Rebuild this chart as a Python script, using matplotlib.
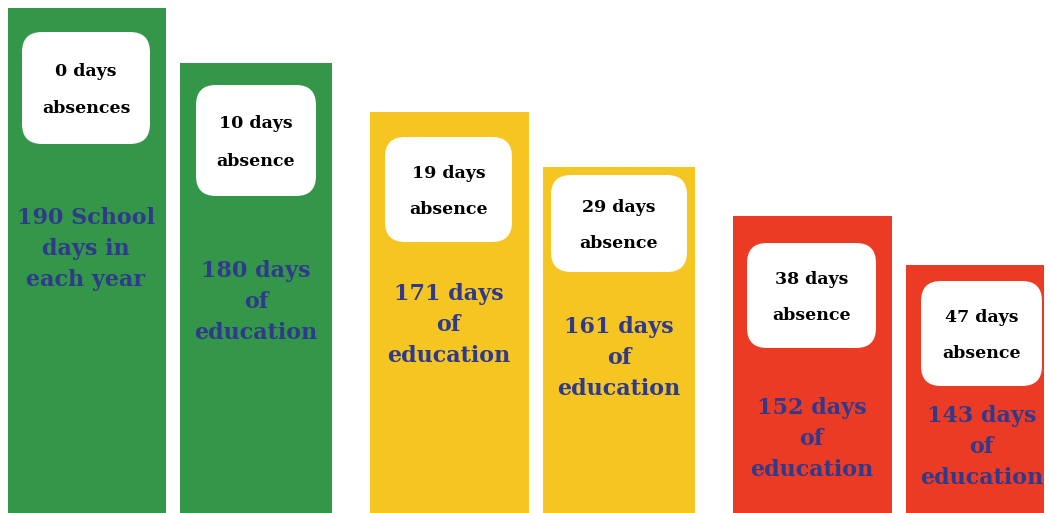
import matplotlib
matplotlib.use("Agg")
import matplotlib.pyplot as plt
from matplotlib.patches import FancyBboxPatch
from matplotlib.transforms import IdentityTransform

# ---- data ----
school_days = [190, 180, 171, 161, 152, 143]
absence_top = ["0 days", "10 days", "19 days", "29 days", "38 days", "47 days"]
absence_bottom = ["absences", "absence", "absence", "absence", "absence", "absence"]
edu_labels = [
    ["190 School", "days in", "each year"],
    ["180 days", "of", "education"],
    ["171 days", "of", "education"],
    ["161 days", "of", "education"],
    ["152 days", "of", "education"],
    ["143 days", "of", "education"],
]
bar_colors = ["#339648", "#339648", "#F5C622", "#F5C622", "#EC3B24", "#EC3B24"]

# ---- layout (pixels) ----
W, H = 1049, 513
bar_left = [8, 180, 370, 543, 733, 906]
bar_right = [166, 332, 529, 695, 892, 1044]
box_rect = [  # left, right, top, bottom (pixels from top)
    (22, 150, 32, 144),
    (196, 316, 85, 196),
    (385, 512, 137, 242),
    (551, 687, 175, 272),
    (747, 876, 243, 348),
    (921, 1042, 281, 386),
]
edu_first_line = [218, 271, 294, 327, 408, 416]
line_gap = 30.8
blue = "#2F3A8C"

fig = plt.figure(figsize=(W / 100, H / 100), dpi=100)
ax = fig.add_axes([0, 0, 1, 1])
ax.set_xlim(0, W)
ax.set_ylim(97.8, 191.46)
ax.axis("off")

centers = [(l + r) / 2 for l, r in zip(bar_left, bar_right)]
widths = [r - l for l, r in zip(bar_left, bar_right)]
ax.bar(centers, school_days, width=widths, color=bar_colors, bottom=0, zorder=1)

font = "DejaVu Serif"
ident = IdentityTransform()
for i in range(len(school_days)):
    l, r, t, b = box_rect[i]
    box = FancyBboxPatch((l, H - b), r - l, b - t,
                         boxstyle="round,pad=0,rounding_size=20",
                         transform=ident, facecolor="white", edgecolor="none", zorder=2)
    ax.add_artist(box)
    cx = (l + r) / 2
    cy = (t + b) / 2 + 2
    ax.text(cx, H - (cy - 18.5), absence_top[i], transform=ident, ha="center", va="center",
            fontsize=12.5, fontweight="bold", family=font, color="black", zorder=3)
    ax.text(cx, H - (cy + 18.5), absence_bottom[i], transform=ident, ha="center", va="center",
            fontsize=12.5, fontweight="bold", family=font, color="black", zorder=3)
    for j, line in enumerate(edu_labels[i]):
        ax.text(cx, H - (edu_first_line[i] + j * line_gap), line, transform=ident,
                ha="center", va="center", fontsize=16, fontweight="bold", family=font,
                color=blue, zorder=3)

fig.savefig("out.png", dpi=100)
